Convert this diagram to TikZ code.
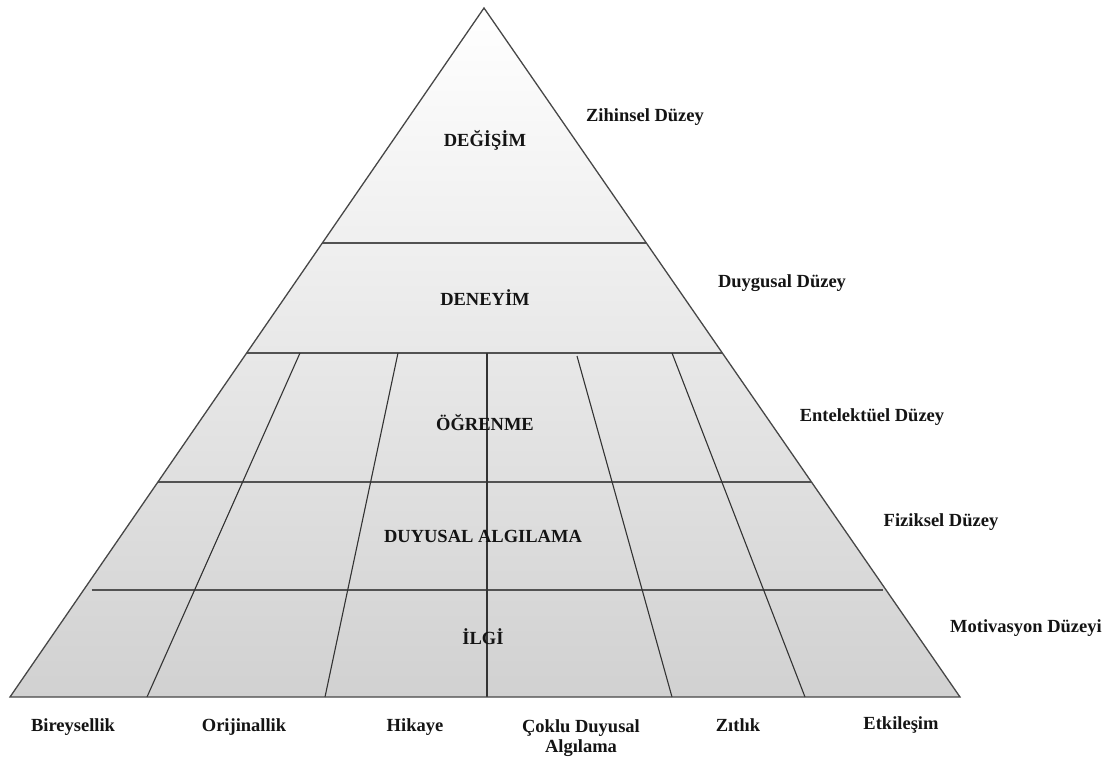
\documentclass[tikz,border=0pt]{standalone}
\usepackage{fontspec}
\setmainfont{Liberation Serif}
\usetikzlibrary{calc}
\begin{document}
\begin{tikzpicture}[x=1pt,y=-1pt,
  lbl/.style={font=\fontsize{18.5}{20}\selectfont\bfseries, text=black!92, inner sep=0pt, align=center},
  outline/.style={draw=black!72, line width=1.3pt, line join=miter},
  band/.style={draw=black!68, line width=1.4pt},
  divider/.style={draw=black!80, line width=1.1pt}]
\useasboundingbox (0,0) rectangle (1112,758);

% pyramid corners
\coordinate (apex) at (484,8);
\coordinate (bl) at (10,697);
\coordinate (br) at (960,697);

% shaded body
\shade[top color=white, bottom color=black!18] (apex) -- (bl) -- (br) -- cycle;

% level boundaries on the two sides
\foreach \n/\t in {1/0.341, 2/0.5007, 3/0.688, 4/0.8445} {
  \coordinate (l\n) at ($(apex)!\t!(bl)$);
  \coordinate (r\n) at ($(apex)!\t!(br)$);
}
\draw[band] (l1) -- (r1);
\draw[band] (l2) -- (r2);
\draw[band] (l3) -- (r3);
\draw[band] ($(l4)+(8,0)$) -- ($(r4)+(-3,0)$);

% column dividers of the lower three levels
\coordinate (t1) at (300,353); \coordinate (b1) at (147,697);
\coordinate (t2) at (398,353); \coordinate (b2) at (325,697);
\coordinate (t3) at (487,353); \coordinate (b3) at (487,697);
\coordinate (t4) at (577,356); \coordinate (b4) at (672,697);
\coordinate (t5) at (672,353); \coordinate (b5) at (805,697);
\foreach \i in {1,...,5} \draw[divider] (t\i) -- (b\i);

\draw[outline] (apex) -- (bl) -- (br) -- cycle;

% level names inside the pyramid
\node[lbl] (degisim) at (485,140) {DEĞİŞİM};
\node[lbl] (deneyim) at (485,298) {DENEYİM};
\node[lbl] (ogrenme) at (485,423) {ÖĞRENME};
\node[lbl] (algilama) at (483,536) {DUYUSAL ALGILAMA};
\node[lbl] (ilgi) at (483,637) {İLGİ};

% level descriptions on the right
\node[lbl] (zihinsel) at (645,117) {Zihinsel Düzey};
\node[lbl] (duygusal) at (782,283) {Duygusal Düzey};
\node[lbl] (entelektuel) at (872,417) {Entelektüel Düzey};
\node[lbl] (fiziksel) at (941,522) {Fiziksel Düzey};
\node[lbl] (motivasyon) at (1026,628) {Motivasyon Düzeyi};

% column names under the base
\node[lbl] (bireysellik) at (73,727) {Bireysellik};
\node[lbl] (orijinallik) at (244,727) {Orijinallik};
\node[lbl] (hikaye) at (415,727) {Hikaye};
\node[lbl, anchor=north] (coklu) at (581,719) {Çoklu Duyusal\\Algılama};
\node[lbl] (zitlik) at (738,725) {Zıtlık};
\node[lbl] (etkilesim) at (901,725) {Etkileşim};
\end{tikzpicture}
\end{document}
